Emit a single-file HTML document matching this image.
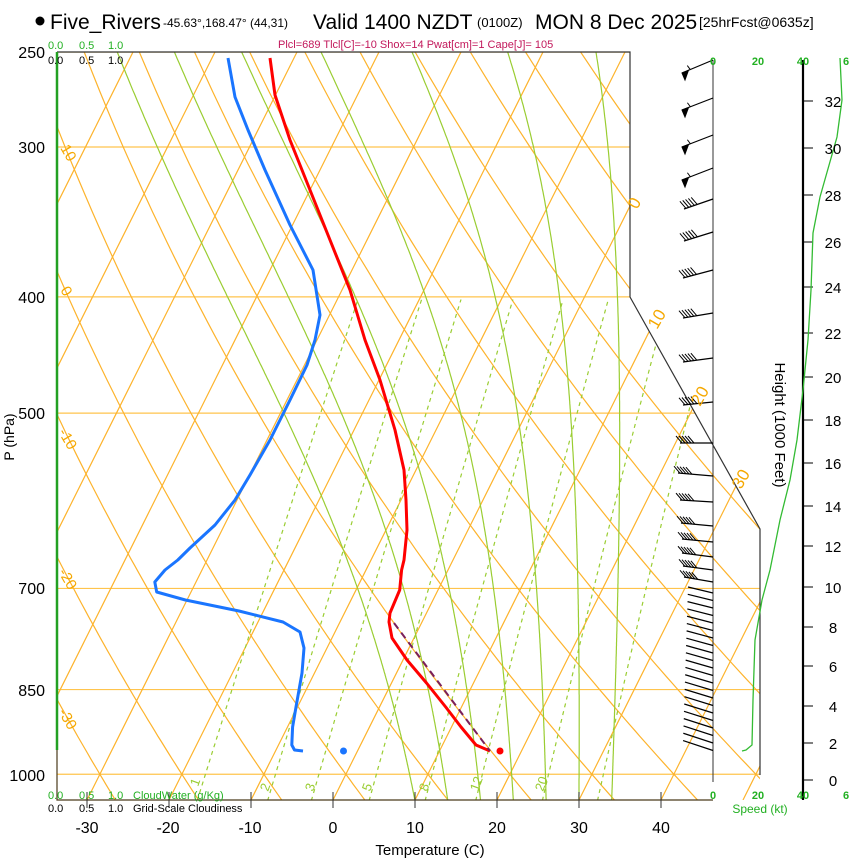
<!DOCTYPE html>
<html><head><meta charset="utf-8">
<style>
body{margin:0;background:#fff;}
svg text{font-family:"Liberation Sans",Arial,sans-serif;}
</style></head>
<body>
<svg id="s" xmlns="http://www.w3.org/2000/svg" width="850" height="860" viewBox="0 0 850 860">
<defs><clipPath id="cp"><polygon points="57,52 630,52 630,297 760,529 760,800 57,800"/></clipPath></defs>
<g id="grid" clip-path="url(#cp)"></g>
<g id="fg"></g>
<!-- text -->
<circle cx="40" cy="21" r="4.5" fill="#000"/>
<text x="50" y="29" font-size="21">Five_Rivers</text>
<text x="163" y="27" font-size="12">-45.63°,168.47° (44,31)</text>
<text x="313" y="29" font-size="21">Valid 1400 NZDT</text>
<text x="477" y="27" font-size="13">(0100Z)</text>
<text x="535" y="29" font-size="21">MON 8 Dec 2025</text>
<text x="699" y="27" font-size="14">[25hrFcst@0635z]</text>
<text x="278" y="48" font-size="11" fill="#c2185b">Plcl=689 Tlcl[C]=-10 Shox=14 Pwat[cm]=1 Cape[J]= 105</text>
<g font-size="11" fill="#22b022"><text x="48" y="49">0.0</text><text x="79" y="49">0.5</text><text x="108" y="49">1.0</text></g>
<g font-size="11" fill="#000"><text x="48" y="64">0.0</text><text x="79" y="64">0.5</text><text x="108" y="64">1.0</text></g>
<g font-size="11" fill="#22b022"><text x="48" y="799">0.0</text><text x="79" y="799">0.5</text><text x="108" y="799">1.0</text><text x="133" y="799">CloudWater (g/Kg)</text></g>
<g font-size="11" fill="#000"><text x="48" y="812">0.0</text><text x="79" y="812">0.5</text><text x="108" y="812">1.0</text><text x="133" y="812">Grid-Scale Cloudiness</text></g>
<g font-size="16" text-anchor="end"><text x="45" y="58">250</text><text x="45" y="153">300</text><text x="45" y="303">400</text><text x="45" y="419">500</text><text x="45" y="594">700</text><text x="45" y="696">850</text><text x="45" y="781">1000</text></g>
<text transform="translate(14,437) rotate(-90)" font-size="14" text-anchor="middle">P (hPa)</text>
<g font-size="16" text-anchor="middle"><text x="87" y="833">-30</text><text x="168" y="833">-20</text><text x="250" y="833">-10</text><text x="333" y="833">0</text><text x="415" y="833">10</text><text x="497" y="833">20</text><text x="579" y="833">30</text><text x="661" y="833">40</text></g>
<text x="430" y="855" font-size="15" text-anchor="middle">Temperature (C)</text>
<text transform="translate(775,425) rotate(90)" font-size="15" text-anchor="middle">Height (1000 Feet)</text>
<g font-size="11" font-weight="bold" fill="#22b022" text-anchor="middle"><text x="713" y="65">0</text><text x="758" y="65">20</text><text x="803" y="65">40</text><text x="846" y="65">6</text>
<text x="713" y="799">0</text><text x="758" y="799">20</text><text x="803" y="799">40</text><text x="846" y="799">6</text></g>
<text x="760" y="813" font-size="12" fill="#22b022" text-anchor="middle">Speed (kt)</text>
<g font-size="15" fill="#f5a800">
<text transform="translate(60,148) rotate(60)">10</text>
<text transform="translate(60,290) rotate(60)">0</text>
<text transform="translate(58,432) rotate(60)">-10</text>
<text transform="translate(58,572) rotate(60)">-20</text>
<text transform="translate(58,712) rotate(60)">-30</text>
<text transform="translate(637,210) rotate(-60)" font-size="17">0</text>
<text transform="translate(657,330) rotate(-60)" font-size="17">10</text>
<text transform="translate(700,407) rotate(-60)" font-size="17">20</text>
<text transform="translate(741,490) rotate(-60)" font-size="17">30</text>
</g>
<g font-size="13" fill="#9acd32">
<text transform="translate(198,787) rotate(-70)">1</text>
<text transform="translate(268,792) rotate(-70)">2</text>
<text transform="translate(313,792) rotate(-70)">3</text>
<text transform="translate(370,792) rotate(-70)">5</text>
<text transform="translate(427,792) rotate(-70)">8</text>
<text transform="translate(478,792) rotate(-70)">12</text>
<text transform="translate(543,792) rotate(-70)">20</text>
</g>
<g font-size="15" text-anchor="middle" id="ht"></g>
</svg>
<script>
(function(){
var NS="http://www.w3.org/2000/svg";
function Y(p){return 52+521*Math.log(p/250);}
function P(y){return 250*Math.exp((y-52)/521);}
function X(T,y){return 333+8.2*T+0.5*(800-y);}
var g=document.getElementById('grid'),fg=document.getElementById('fg');
function path(par,d,st){var e=document.createElementNS(NS,'path');e.setAttribute('d',d);for(var k in st)e.setAttribute(k,st[k]);par.appendChild(e);return e;}
var OR='#fdb32c';
// isobars
[250,300,400,500,700,850,1000].forEach(function(p){var y=Y(p);path(g,'M57 '+y+'H760',{stroke:'#ffc44d','stroke-width':1.2,fill:'none'});});
// isotherms
for(var T=-110;T<=50;T+=10){path(g,'M'+X(T,800)+' 800L'+X(T,40)+' 40',{stroke:OR,'stroke-width':1.2,fill:'none'});}
// dry adiabats
for(var th=-40;th<=200;th+=10){var d='';for(var p=1060;p>=240;p-=10){var t=(th+273.15)*Math.pow(p/1000,0.286)-273.15;var y=Y(p);d+=(d?'L':'M')+X(t,y).toFixed(1)+' '+y.toFixed(1);}path(g,d,{stroke:OR,'stroke-width':1.2,fill:'none'});}
// mixing ratio
function es(t){return 6.112*Math.exp(17.67*t/(t+243.5));}
[1,2,3,5,8,12,20,30].forEach(function(w){var d='';for(var p=1052;p>=400;p-=10){var e=w*p/(622+w);var L=Math.log(e/6.112);var td=243.5*L/(17.67-L);var y=Y(p);d+=(d?'L':'M')+X(td,y).toFixed(1)+' '+y.toFixed(1);}path(g,d,{stroke:'#9acd32','stroke-width':1.2,fill:'none','stroke-dasharray':'4,4'});});
// moist adiabats
[10,14,18,22,26,30,34].forEach(function(t0){var T=t0+273.15,p=1051,d='';while(p>=245){var y=Y(p);d+=(d?'L':'M')+X(T-273.15,y).toFixed(1)+' '+y.toFixed(1);var e=es(T-273.15);var rs=0.622*e/(p-e);var Rd=287,cp=1004,Lv=2.5e6;var dTdp=(Rd*T+Lv*rs)/(p*(cp+Lv*Lv*rs*0.622/(Rd*T*T)));var dp=-2;T+=dTdp*dp;p+=dp;}path(g,d,{stroke:'#9acd32','stroke-width':1.2,fill:'none'});});
// frame
path(fg,'M57 52H630V297L760 529V775',{stroke:'#333','stroke-width':1.2,fill:'none'});
path(fg,'M57 52V800H713',{stroke:'#4a3a1a','stroke-width':1.2,fill:'none'});
path(fg,'M57 52V750',{stroke:'#22a022','stroke-width':2.5,fill:'none'});
[-30,-20,-10,0,10,20,30,40].forEach(function(t){var x=333+8.2*t;path(fg,'M'+x+' 792V808',{stroke:'#333','stroke-width':1});});
path(fg,'M713 60V782',{stroke:'#333','stroke-width':1,fill:'none'});
path(fg,'M803 60V800',{stroke:'#000','stroke-width':2.2,fill:'none'});
var ht=document.getElementById('ht');
var hy=[780,743,706,666,627,587,546,506,463,420,377,333,287,242,195,148,101];
hy.forEach(function(y,i){path(fg,'M803 '+y+'H813',{stroke:'#000','stroke-width':1});var t=document.createElementNS(NS,'text');t.setAttribute('x',833);t.setAttribute('y',y+6);t.textContent=i*2;ht.appendChild(t);});
// speed curve
path(fg,'M840 58L842 100L837 137L820 197L813 233L811 290L808 340L803 390L797 440L790 480L780 520L770 570L762 600L755 640L753 700L752 745L746 750L742 751',{stroke:'#33bb33','stroke-width':1.3,fill:'none'});
// profiles
path(fg,'M270 58L275 95L290 140L310 190L330 240L350 290L365 340L380 380L395 430L404 470L406 500L407 530L404 560L401.6 570L399.7 590L390 613L389 622L392 638L407 660L426.5 683L445.7 707L461 727L476 745L490 751',{stroke:'#ff0000','stroke-width':3,fill:'none','stroke-linejoin':'round'});
path(fg,'M394 623L490 751',{stroke:'#7a1f5c','stroke-width':2,fill:'none','stroke-dasharray':'7,5'});
path(fg,'M228 58L235 97L248 130L265 170L290 225L313 270L320 315L315 340L307 365L290 400L270 440L250 475L235 500L215 525L190 548L177.8 560L165 570L154.8 582L156.7 592L185.4 600L239 611L283 622L300 632L304 648L302 673L296 707L292.6 727L291.8 745L294.5 750L303 751',{stroke:'#1a75ff','stroke-width':3,fill:'none','stroke-linejoin':'round'});
var c=document.createElementNS(NS,'circle');c.setAttribute('cx',500);c.setAttribute('cy',751);c.setAttribute('r',3.5);c.setAttribute('fill','#f00');fg.appendChild(c);
c=document.createElementNS(NS,'circle');c.setAttribute('cx',343.5);c.setAttribute('cy',751);c.setAttribute('r',3.5);c.setAttribute('fill','#1a75ff');fg.appendChild(c);
// barbs
function barb(y,tx,ty,kind){path(fg,'M713 '+y+'L'+tx+' '+ty,{stroke:'#000','stroke-width':1.2,fill:'none'});
var dx=713-tx,dy=y-ty,L=Math.sqrt(dx*dx+dy*dy);var ux=dx/L,uy=dy/L;
if(kind==='p'){var ax=tx+ux*7,ay=ty+uy*7;path(fg,'M'+tx+' '+ty+'L'+ax+' '+ay+'L'+(tx+3)+' '+(ty+7)+'Z',{fill:'#000',stroke:'#000','stroke-width':1});
path(fg,'M'+(tx+ux*9)+' '+(ty+uy*9)+'l-3 -4',{stroke:'#000','stroke-width':1});}
else if(kind==='f'){for(var i=0;i<5;i++){var bx=tx+ux*(3*i+2),by=ty+uy*(3*i+2);path(fg,'M'+bx+' '+by+'l-6 -7',{stroke:'#000','stroke-width':1});}}}
[[60,682,73],[98,682,110],[135,682,147],[168,682,180]].forEach(function(a){barb(a[0],a[1],a[2],'p');});
[[199,684,209],[232,684,241],[270,683,278],[313,683,318],[358,683,362],[402,683,405],[443,680,443],[476,678,473],[502,680,500],[526,681,523],[542,682,539],[557,682,553],[570,683,566],[582,684,577]].forEach(function(a){barb(a[0],a[1],a[2],'f');});
for(var y=593;y<=752;y+=7.5){var f=(y-593)/160;barb(y,688-5*f,y-6-4*f,'');}
})();
</script>
</body></html>
